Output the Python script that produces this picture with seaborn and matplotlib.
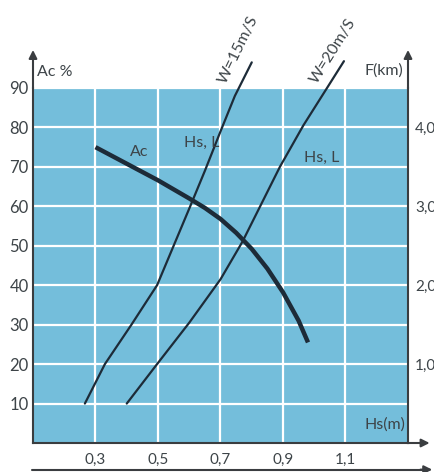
import numpy as np
import pandas as pd
import matplotlib
matplotlib.use("Agg")
import matplotlib.pyplot as plt
import seaborn as sns

# values
hs_ac = [0.30, 0.40, 0.50, 0.60, 0.65, 0.70, 0.75, 0.80, 0.85, 0.90, 0.95, 0.98]
ac_pct = [75, 70.8, 66.6, 62, 59.6, 56.8, 53.3, 49.2, 44.2, 38.2, 31, 25.5]

hs_w15 = [0.266, 0.33, 0.415, 0.497, 0.55, 0.603, 0.65, 0.70, 0.746, 0.80]
hs_l_w15 = [10, 20, 30, 40, 50, 60, 69, 79, 88, 96.5]

hs_w20 = [0.40, 0.497, 0.60, 0.70, 0.77, 0.83, 0.89, 0.965, 1.044, 1.095]
hs_l_w20 = [10, 20, 30.5, 41.5, 51, 60.5, 70, 80.5, 90.4, 96.8]

x_ticks = [0.3, 0.5, 0.7, 0.9, 1.1]
x_labels = ["0,3", "0,5", "0,7", "0,9", "1,1"]
y_ticks = [10, 20, 30, 40, 50, 60, 70, 80, 90]
f_ticks = [1.0, 2.0, 3.0, 4.0]
f_labels = ["1,0", "2,0", "3,0", "4,0"]

sns.set_style("white")
plt.rcParams['font.family'] = ['Lato', 'DejaVu Sans']

bg = '#74bedb'
ink = '#1d2b38'
txt = '#3d4448'
axis_col = '#3a3d40'

fig = plt.figure(figsize=(4.35, 4.72), dpi=100)
ax = fig.add_axes([33/435, 1 - 443/472, 375/435, 355/472])
ax.set_facecolor(bg)

ac_df = pd.DataFrame({'Hs': hs_ac, 'Ac': ac_pct})
w15_df = pd.DataFrame({'Hs': hs_w15, 'L': hs_l_w15})
w20_df = pd.DataFrame({'Hs': hs_w20, 'L': hs_l_w20})

sns.lineplot(data=w15_df, x='Hs', y='L', sort=False, ax=ax, color=ink, lw=1.6, clip_on=False, zorder=3)
sns.lineplot(data=w20_df, x='Hs', y='L', sort=False, ax=ax, color=ink, lw=1.6, clip_on=False, zorder=3)
sns.lineplot(data=ac_df, x='Hs', y='Ac', sort=False, ax=ax, color=ink, lw=3.2, zorder=4,
             solid_capstyle='butt')

ax.set_xlim(0.1, 1.3)
ax.set_ylim(0, 90)
ax.set_xticks(x_ticks)
ax.set_xticklabels(x_labels)
ax.set_yticks(y_ticks)
ax.grid(True, color='white', lw=1.6)
ax.set_axisbelow(True)
ax.tick_params(axis='both', length=0, colors=txt, labelsize=11)
ax.tick_params(axis='x', pad=7)
ax.tick_params(axis='y', pad=3)
for lab in ax.get_yticklabels():
    lab.set_fontsize(12)
ax.set_xlabel('')
ax.set_ylabel('')
for s in ['top', 'right']:
    ax.spines[s].set_visible(False)
ax.spines['left'].set_color(axis_col)
ax.spines['left'].set_linewidth(1.5)
ax.spines['bottom'].set_color(axis_col)
ax.spines['bottom'].set_linewidth(1.5)

# right hand scale F(km)
ax2 = ax.twinx()
ax2.set_ylim(0, 4.5)
ax2.set_yticks(f_ticks)
ax2.set_yticklabels(f_labels)
ax2.tick_params(axis='y', length=0, colors=txt, labelsize=11, pad=5)
for s in ['top', 'left', 'bottom']:
    ax2.spines[s].set_visible(False)
ax2.spines['right'].set_color(axis_col)
ax2.spines['right'].set_linewidth(1.5)

# axis arrows
arr = dict(arrowstyle='-|>', color=axis_col, lw=1.5, mutation_scale=12)
ax.annotate('', xy=(0, 1.115), xytext=(0, 0.99), xycoords='axes fraction',
            arrowprops=arr, annotation_clip=False)
ax.annotate('', xy=(1, 1.115), xytext=(1, 0.99), xycoords='axes fraction',
            arrowprops=arr, annotation_clip=False)
ax.annotate('', xy=(1.065, 0), xytext=(0.99, 0), xycoords='axes fraction',
            arrowprops=arr, annotation_clip=False)
fig.add_artist(plt.Line2D([32/435, 0.97], [0.005, 0.005], color=axis_col, lw=1.5))
ax.annotate('', xy=(1.0, 0.005), xytext=(0.96, 0.005), xycoords='figure fraction',
            arrowprops=arr, annotation_clip=False)

# labels
ax.text(0.01, 1.045, 'Ac %', transform=ax.transAxes, fontsize=11.5, color=txt,
        ha='left', va='center')
ax.text(0.987, 1.05, 'F(km)', transform=ax.transAxes, fontsize=11.5, color=txt,
        ha='right', va='center')
ax.text(1.226, 4.6, 'Hs(m)', fontsize=11.5, color=txt, ha='center', va='center')
ax.text(0.439, 73.8, 'Ac', fontsize=11.5, color=txt, ha='center', va='center')
ax.text(0.641, 76.2, 'Hs, L', fontsize=11.5, color=txt, ha='center', va='center')
ax.text(1.025, 72.3, 'Hs, L', fontsize=11.5, color=txt, ha='center', va='center')
ax.text(0.718, 90.8, 'W=15m/S', fontsize=11.5, color=txt, ha='left', va='baseline',
        rotation=64, rotation_mode='anchor', clip_on=False)
ax.text(1.008, 91.0, 'W=20m/S', fontsize=11.5, color=txt, ha='left', va='baseline',
        rotation=58, rotation_mode='anchor', clip_on=False)

plt.savefig('out.png', dpi=100)
